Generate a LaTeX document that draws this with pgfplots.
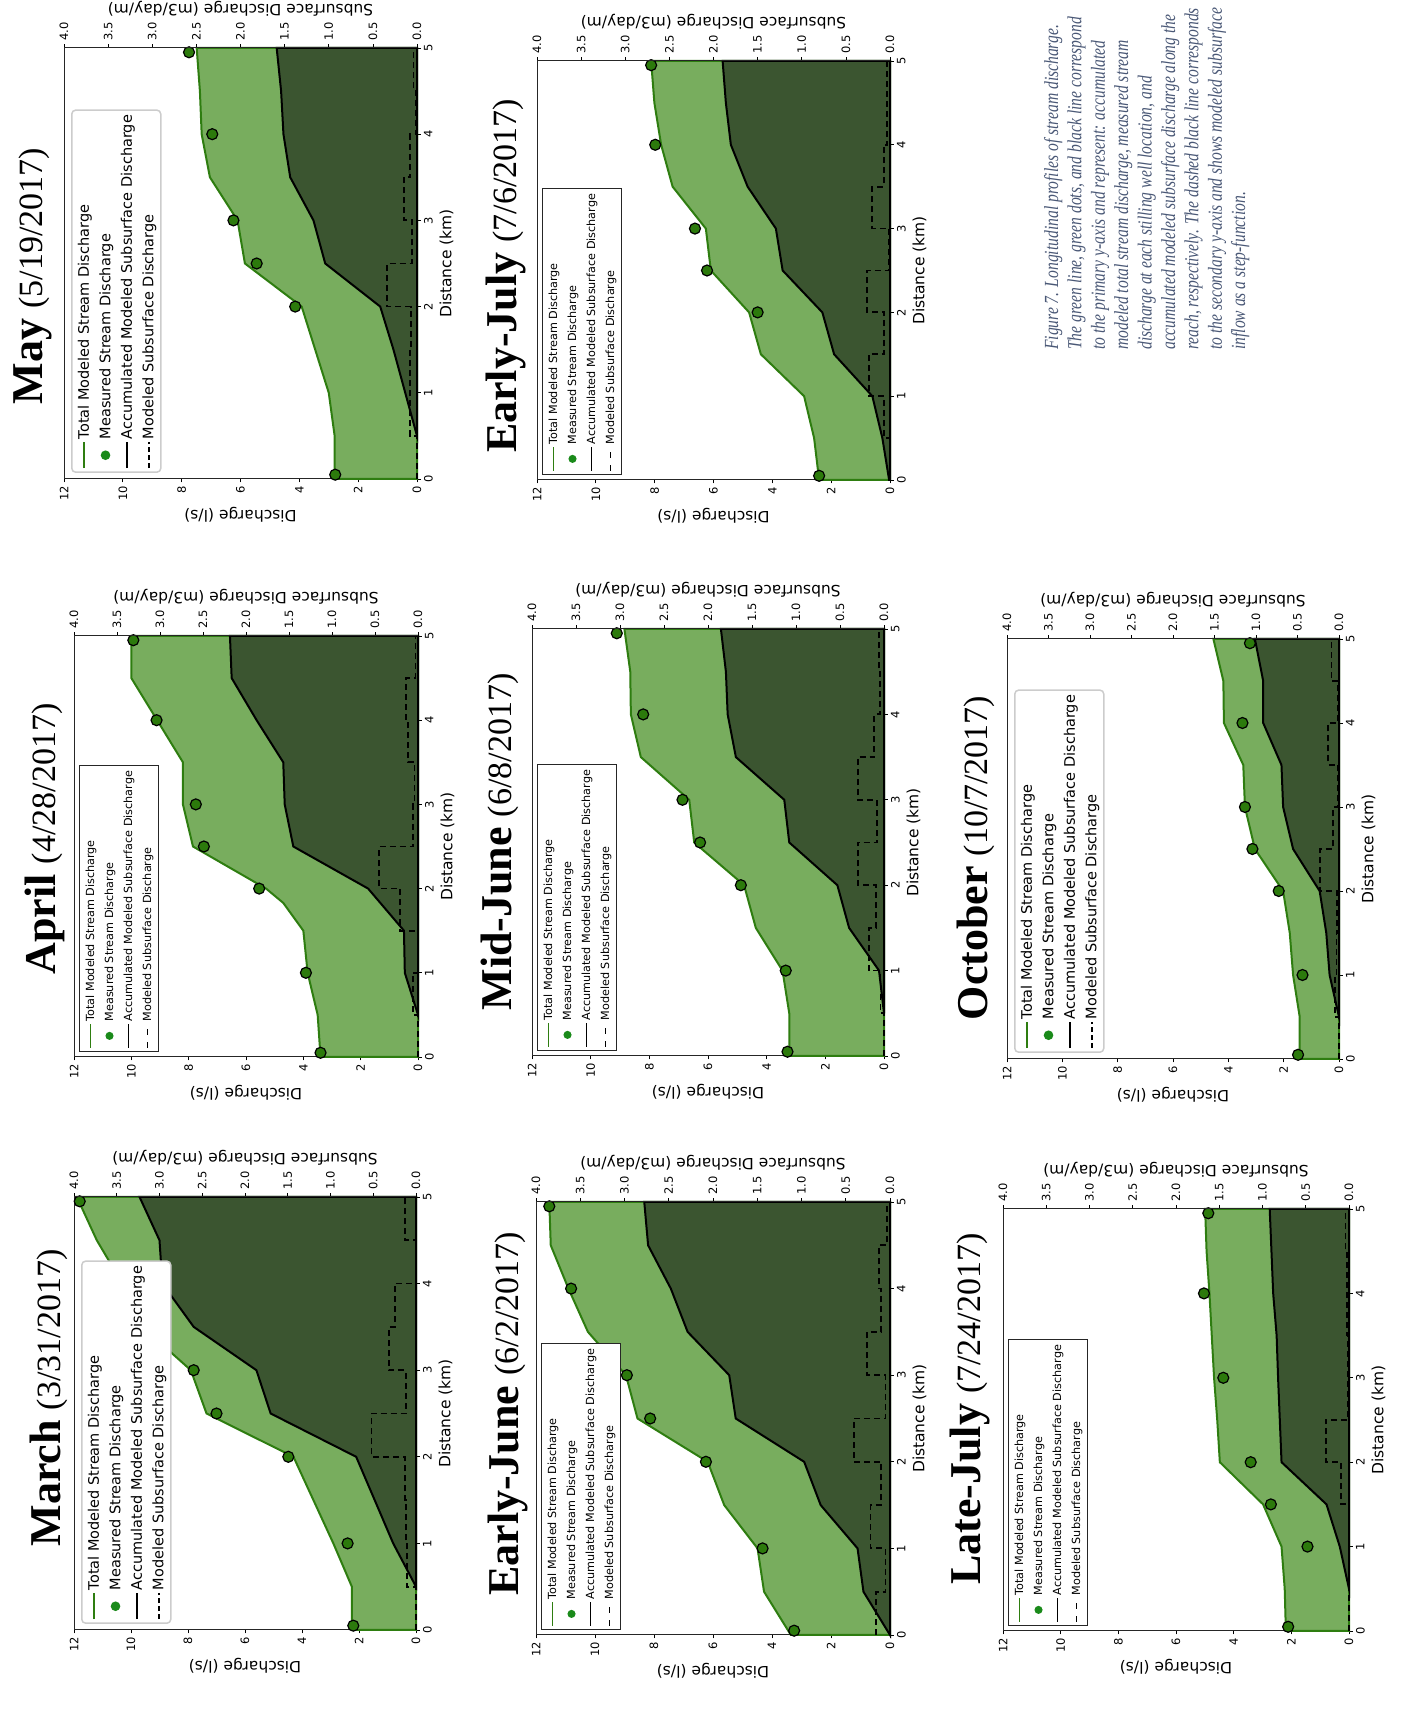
\documentclass[border=0pt]{standalone}
\usepackage{pgfplots}
\pgfplotsset{compat=1.18}
\usepackage{fontspec}
\setmainfont{Liberation Serif}
\newfontfamily\dejavu{DejaVu Sans}
\newfontfamily\capfont[FakeStretch=0.78]{Liberation Serif}

\definecolor{lightfill}{HTML}{78AD5E}
\definecolor{gline}{HTML}{2E7D10}
\definecolor{darkfill}{HTML}{3B5530}
\definecolor{dotfill}{HTML}{2C7A0C}
\definecolor{legdot}{HTML}{1A8A1A}
\definecolor{capcol}{HTML}{4A5876}

\pgfplotsset{
  primary/.style={
    scale only axis, clip=false,
    xmin=0, xmax=5, ymin=0, ymax=12,
    xtick={0,1,2,3,4,5}, ytick={0,2,4,6,8,10,12},
    xtick pos=left, ytick pos=left,
    tick align=outside, major tick length=3.5pt,
    tick style={black, line width=0.7pt},
    axis line style={black!85, line width=1pt},
    ticklabel style={font=\dejavu\fontsize{11.5}{11.5}\selectfont},
    /pgf/number format/assume math mode=true,
    label style={font=\dejavu\fontsize{15.5}{15.5}\selectfont},
    xlabel={Distance (km)}, ylabel={Discharge (l/s)},
    legend cell align=left,
  },
  secondary/.style={
    scale only axis, clip=false,
    xmin=0, xmax=5, ymin=0, ymax=4,
    axis x line=none, axis y line*=right,
    ytick={0,0.5,1,1.5,2,2.5,3,3.5,4},
    yticklabel style={/pgf/number format/fixed, /pgf/number format/fixed zerofill, /pgf/number format/precision=1},
    tick align=outside, major tick length=3.5pt,
    tick style={black, line width=0.7pt},
    axis line style={black!85, line width=1pt},
    ticklabel style={font=\dejavu\fontsize{11.5}{11.5}\selectfont},
    /pgf/number format/assume math mode=true,
    label style={font=\dejavu\fontsize{15.5}{15.5}\selectfont},
    ylabel={Subsurface Discharge (m3/day/m)},
  },
  legA/.style={legend style={font=\dejavu\fontsize{14.5}{17}\selectfont,
      draw=black!20, line width=1.5pt, rounded corners=4pt, fill=white,
      row sep=5pt, inner ysep=4pt,
      at={(0,1)}, anchor=north west, xshift=6pt, yshift=-7pt}},
  legB/.style={legend style={font=\dejavu\fontsize{11.2}{13}\selectfont,
      draw=black!85, line width=1pt, fill=white,
      row sep=5pt, inner ysep=4pt,
      at={(0,1)}, anchor=north west, xshift=5pt, yshift=-5pt}},
}

% legend entries, large and small variants
\newcommand{\legentriesA}{%
  \addlegendimage{legend image code/.code={\draw[gline, line width=2pt] (0pt,0pt) -- (26pt,0pt);}}
  \addlegendentry{Total Modeled Stream Discharge}
  \addlegendimage{legend image code/.code={\fill[legdot] (13pt,0pt) circle (4pt);}}
  \addlegendentry{Measured Stream Discharge}
  \addlegendimage{legend image code/.code={\draw[black, line width=2pt] (0pt,0pt) -- (26pt,0pt);}}
  \addlegendentry{Accumulated Modeled Subsurface Discharge}
  \addlegendimage{legend image code/.code={\draw[black, line width=2pt, dash pattern=on 5pt off 3pt] (0pt,0pt) -- (26pt,0pt);}}
  \addlegendentry{Modeled Subsurface Discharge}}
\newcommand{\legentriesB}{%
  \addlegendimage{legend image code/.code={\draw[gline, line width=1.2pt] (0pt,0pt) -- (24pt,0pt);}}
  \addlegendentry{Total Modeled Stream Discharge}
  \addlegendimage{legend image code/.code={\fill[legdot] (12pt,0pt) circle (3.5pt);}}
  \addlegendentry{Measured Stream Discharge}
  \addlegendimage{legend image code/.code={\draw[black, line width=1.2pt] (0pt,0pt) -- (24pt,0pt);}}
  \addlegendentry{Accumulated Modeled Subsurface Discharge}
  \addlegendimage{legend image code/.code={\draw[black, line width=1.2pt, dash pattern=on 6pt off 7pt] (0pt,0pt) -- (24pt,0pt);}}
  \addlegendentry{Modeled Subsurface Discharge}}

% #1 lower-left corner, #2 width, #3 height, #4 legend variant (A/B),
% #5 total modeled discharge, #6 accumulated subsurface discharge,
% #7 subsurface inflow steps, #8 measured discharge
\newcommand{\panel}[8]{%
  \begin{axis}[primary, leg#4, at={(#1)}, anchor=south west, width=#2, height=#3]
    \addplot[fill=lightfill, draw=gline, line width=2pt, forget plot] coordinates {#5} \closedcycle;
    \addplot[fill=darkfill, draw=black, line width=2pt, forget plot] coordinates {#6} \closedcycle;
    \addplot[only marks, mark=*, mark size=5.5pt, mark options={fill=dotfill, draw=black, line width=1.2pt}, forget plot] coordinates {#8};
    \csname legentries#4\endcsname
  \end{axis}
  \begin{axis}[secondary, at={(#1)}, anchor=south west, width=#2, height=#3]
    \addplot[black, line width=1.8pt, dash pattern=on 6pt off 4pt, const plot mark left] coordinates {#7};
  \end{axis}}

\newcommand{\paneltitle}[3]{%
  \node[anchor=base, inner sep=0] at (#1) {{\fontsize{44}{44}\selectfont\bfseries #2}\hspace{10pt}{\fontsize{34}{34}\selectfont #3}};}

\begin{document}
\begin{tikzpicture}[x=1pt, y=1pt]
\useasboundingbox (0,0) rectangle (1403,1719);
\begin{scope}[transform canvas={rotate=90}]

% March
\panel{89pt,-416pt}{433pt}{342pt}{A}
 {(0,2.25)(0.5,2.25)(1,2.9)(1.5,3.6)(2,4.3)(2.5,7.35)(3,7.9)(3.5,9.6)(4,10.3)(4.5,11.2)(5,11.9)}
 {(0.5,0)(1,0.8)(1.5,1.45)(2,2.1)(2.5,5.1)(3,5.6)(3.5,7.8)(4,8.9)(4.5,9.0)(5,9.7)}
 {(0,0)(0.5,0.11)(1,0.12)(1.5,0.13)(2,0.52)(2.5,0.12)(3,0.32)(3.5,0.25)(4,0)(4.5,0.13)(5,0.13)}
 {(0.05,2.2)(1,2.4)(2,4.48)(2.5,7.0)(3,7.8)(4.95,11.8)}
\paneltitle{321,-60}{March}{(3/31/2017)}

% April
\panel{662pt,-418pt}{421pt}{344pt}{B}
 {(0,3.4)(0.5,3.5)(1,3.85)(1.5,4.0)(1.83,4.7)(2,5.3)(2.5,7.85)(3,8.2)(3.5,8.2)(4,9.1)(4.5,10.0)(5,10.0)}
 {(0.5,0)(1,0.46)(1.5,0.49)(2,1.74)(2.5,4.35)(3,4.65)(3.5,4.7)(4,5.63)(4.5,6.5)(5,6.56)}
 {(0,0)(0.5,0.06)(1,0)(1.5,0.21)(2,0.45)(2.5,0.06)(3,0.04)(3.5,0.12)(4,0.14)(4.5,0.03)(5,0.03)}
 {(0.05,3.4)(1,3.91)(2,5.54)(2.5,7.47)(3,7.75)(4,9.12)(4.95,9.93)}
\paneltitle{880,-55}{April}{(4/28/2017)}

% May
\panel{1240pt,-417pt}{431pt}{353pt}{A}
 {(0,2.8)(0.5,2.8)(1,3.0)(1.5,3.46)(2,3.92)(2.5,5.85)(3,6.1)(3.5,7.04)(4,7.32)(4.5,7.38)(5,7.49)}
 {(0.5,0)(1,0.4)(1.5,0.8)(2,1.25)(2.5,3.12)(3,3.52)(3.5,4.31)(4,4.54)(4.5,4.62)(5,4.77)}
 {(0,0)(0.5,0.08)(1,0.08)(1.5,0.07)(2,0.34)(2.5,0.06)(3,0.15)(3.5,0.08)(4,0.01)(4.5,0.04)(5,0.04)}
 {(0.05,2.78)(2,4.14)(2.5,5.45)(3,6.24)(4,6.96)(4.95,7.75)}
\paneltitle{1443,-42}{May}{(5/19/2017)}

% Early-June
\panel{84pt,-890pt}{433pt}{354pt}{B}
 {(0,3.36)(0.5,4.27)(1,4.49)(1.5,5.62)(2,6.18)(2.5,8.56)(3,8.95)(3.5,10.24)(4,10.9)(4.5,11.5)(5,11.55)}
 {(0,0)(0.5,0.9)(1,1.1)(1.5,2.35)(2,2.91)(2.5,5.23)(3,5.45)(3.5,6.86)(4,7.43)(4.5,8.2)(5,8.33)}
 {(0,0.16)(0.5,0.05)(1,0.22)(1.5,0.1)(2,0.41)(2.5,0.05)(3,0.26)(3.5,0.1)(4,0.12)(4.5,0.03)(5,0.03)}
 {(0.05,3.25)(1,4.32)(2,6.24)(2.5,8.13)(3,8.92)(4,10.81)(4.95,11.55)}
\paneltitle{305,-518}{Early-June}{(6/2/2017)}

% Mid-June
\panel{663pt,-884pt}{427pt}{352pt}{B}
 {(0,3.23)(0.5,3.23)(1,3.46)(1.5,4.37)(2,4.77)(2.5,6.47)(3,6.64)(3.5,8.29)(4,8.63)(4.5,8.65)(5,8.85)}
 {(0.5,0)(1,0.17)(1.5,1.19)(2,1.59)(2.5,3.23)(3,3.4)(3.5,5.05)(4,5.33)(4.5,5.39)(5,5.56)}
 {(0,0)(0.5,0.04)(1,0.17)(1.5,0.09)(2,0.3)(2.5,0.08)(3,0.3)(3.5,0.11)(4,0.05)(4.5,0.06)(5,0.06)}
 {(0.05,3.29)(1,3.35)(2,4.88)(2.5,6.27)(3,6.87)(4,8.21)(4.95,9.11)}
\paneltitle{877,-511}{Mid-June}{(6/8/2017)}

% Early-July
\panel{1239pt,-890pt}{419pt}{353pt}{B}
 {(0,2.41)(0.5,2.58)(1,2.92)(1.5,4.39)(2,4.79)(2.5,6.09)(3,6.26)(3.5,7.39)(4,7.78)(4.5,8.01)(5,8.12)}
 {(0,0.03)(0.5,0.26)(1,0.6)(1.5,1.9)(2,2.3)(2.5,3.65)(3,3.88)(3.5,4.84)(4,5.41)(4.5,5.58)(5,5.69)}
 {(0,0)(0.5,0.07)(1,0.24)(1.5,0.07)(2,0.26)(2.5,0.01)(3,0.2)(3.5,0.07)(4,0.03)(4.5,0.03)(5,0.03)}
 {(0.05,2.41)(2,4.5)(2.5,6.22)(3,6.63)(4,7.98)(4.95,8.12)}
\paneltitle{1443,-516}{Early-July}{(7/6/2017)}

% Late-July
\panel{88pt,-1349pt}{422pt}{346pt}{B}
 {(0,2.19)(0.5,2.23)(1,2.34)(1.5,2.98)(2,4.48)(2.5,4.57)(3,4.68)(3.5,4.76)(4,4.84)(4.5,4.94)(5,4.99)}
 {(0.5,0)(1,0.32)(1.5,0.78)(2,2.34)(2.5,2.4)(3,2.46)(3.5,2.51)(4,2.63)(4.5,2.69)(5,2.75)}
 {(0,0)(0.5,0)(1,0)(1.5,0.09)(2,0.27)(2.5,0.01)(3,0.01)(3.5,0.02)(4,0.02)(4.5,0.04)(5,0.04)}
 {(0.05,2.11)(1,1.44)(1.5,2.71)(2,3.41)(3,4.36)(4,5.03)(4.95,4.88)}
\paneltitle{310,-980}{Late-July}{(7/24/2017)}

% October
\panel{660pt,-1339pt}{420pt}{332pt}{A}
 {(0,1.42)(0.5,1.42)(1,1.66)(1.5,1.78)(2,2.02)(2.5,3.04)(3,3.4)(3.5,3.46)(4,4.16)(4.5,4.18)(5,4.54)}
 {(0.5,0)(1,0.34)(1.5,0.46)(2,0.7)(2.5,1.66)(3,2.02)(3.5,2.08)(4,2.74)(4.5,2.74)(5,3.04)}
 {(0,0)(0.5,0.05)(1,0.03)(1.5,0.02)(2,0.23)(2.5,0.07)(3,0.01)(3.5,0.13)(4,0.01)(4.5,0.09)(5,0.09)}
 {(0.05,1.48)(1,1.32)(2,2.18)(2.5,3.13)(3,3.4)(4,3.49)(4.95,3.22)}
\paneltitle{861,-987}{October}{(10/7/2017)}

% caption
\begin{scope}[font=\capfont\itshape\fontsize{20}{23.4}\selectfont, text=capcol]
\node[anchor=base west, inner sep=0] at (1369,-1058.0) {Figure 7. Longitudinal profiles of stream discharge.};
\node[anchor=base west, inner sep=0] at (1369,-1081.4) {The green line, green dots, and black line correspond};
\node[anchor=base west, inner sep=0] at (1369,-1104.8) {to the primary y-axis and represent: accumulated};
\node[anchor=base west, inner sep=0] at (1369,-1128.2) {modeled total stream discharge, measured stream};
\node[anchor=base west, inner sep=0] at (1369,-1151.6) {discharge at each stilling well location, and};
\node[anchor=base west, inner sep=0] at (1369,-1175.0) {accumulated modeled subsurface discharge along the};
\node[anchor=base west, inner sep=0] at (1369,-1198.4) {reach, respectively. The dashed black line corresponds};
\node[anchor=base west, inner sep=0] at (1369,-1221.8) {to the secondary y-axis and shows modeled subsurface};
\node[anchor=base west, inner sep=0] at (1369,-1245.2) {inflow as a step-function.};
\end{scope}
\end{scope}
\end{tikzpicture}
\end{document}
